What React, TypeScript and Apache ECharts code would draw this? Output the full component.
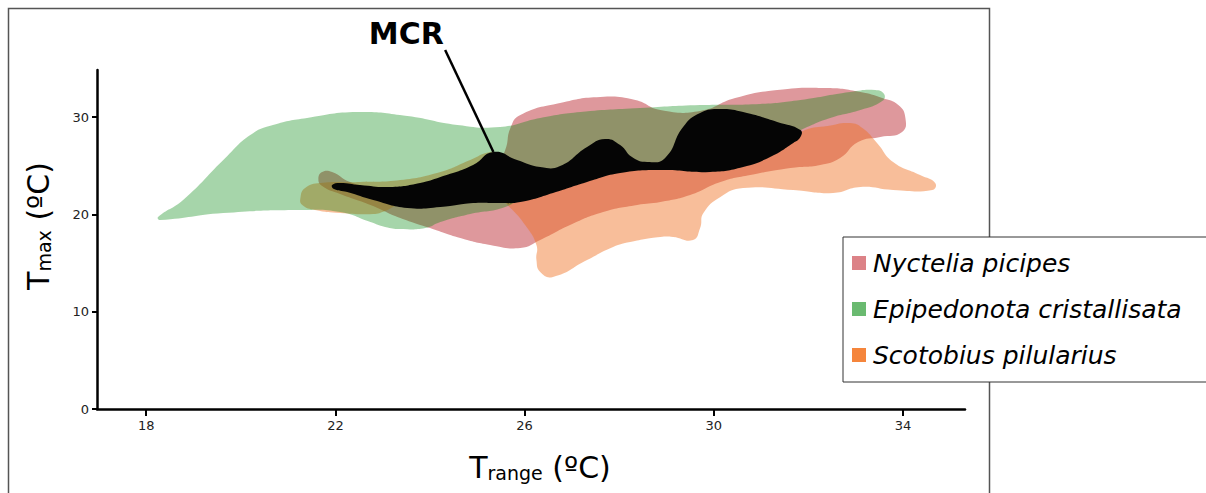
import React, { useEffect, useRef } from "react";
import * as echarts from "echarts";

// ---- Axis ticks ----
const xTicks = [18, 22, 26, 30, 34];
const yTicks = [0, 10, 20, 30];

// ---- Legend ----
const speciesNames = ["Nyctelia picipes", "Epipedonota cristallisata", "Scotobius pilularius"];
const legendColors = ["#dc8287", "#6aba70", "#f5853c"];

// ---- Niche outlines (Trange, Tmax) ----
const nycteliaX = [21.64, 21.72, 21.93, 22.31, 22.95, 23.79, 24.64, 25.27, 25.59, 25.70, 25.91, 26.75, 27.60, 28.34, 28.87, 29.71, 30.45, 31.34, 32.40, 33.10, 33.56, 33.90, 34.05, 33.98, 33.52, 33.05, 32.67, 32.25, 31.62, 30.77, 30.14, 29.50, 28.87, 28.38, 27.66, 26.96, 26.33, 25.91, 25.27, 24.64, 24.00, 23.37, 22.74, 22.10, 21.72];
const nycteliaY = [23.64, 24.36, 24.36, 23.33, 22.51, 21.69, 21.99, 23.53, 26.62, 28.88, 30.22, 31.45, 32.07, 31.76, 30.73, 30.63, 31.96, 32.79, 32.99, 32.58, 31.96, 31.24, 29.91, 28.47, 27.95, 27.44, 25.80, 25.08, 24.77, 24.05, 23.33, 21.99, 21.27, 20.97, 20.25, 18.91, 17.37, 16.55, 16.86, 17.57, 18.60, 19.63, 20.97, 22.10, 22.92];

const scotobiusX = [21.26, 21.36, 21.68, 22.52, 23.37, 24.22, 24.85, 25.27, 25.48, 25.91, 26.75, 27.60, 28.44, 29.71, 30.98, 31.62, 31.93, 32.40, 32.88, 33.14, 33.45, 33.79, 34.36, 34.68, 34.62, 33.79, 33.10, 32.52, 31.68, 30.62, 30.14, 29.78, 29.71, 29.56, 29.14, 28.87, 28.23, 27.87, 27.32, 26.60, 26.33, 26.25, 26.25, 26.01, 25.70, 25.48, 24.85, 24.00, 23.37, 23.05, 22.80, 22.10, 21.57, 21.30];
const scotobiusY = [21.69, 22.71, 23.23, 23.33, 23.53, 24.36, 25.59, 26.41, 26.10, 24.56, 23.53, 24.15, 24.97, 24.97, 26.41, 27.65, 28.67, 29.09, 29.39, 28.88, 27.34, 25.39, 24.05, 23.23, 22.51, 22.51, 22.82, 22.20, 22.51, 22.71, 21.79, 20.14, 18.60, 17.37, 17.68, 17.68, 17.16, 16.65, 15.31, 13.57, 14.08, 15.31, 16.86, 18.91, 20.66, 21.48, 21.89, 21.58, 21.07, 20.35, 20.04, 20.14, 20.45, 20.97];

const epipedonotaX = [18.25, 18.78, 19.63, 20.20, 20.68, 21.40, 22.46, 23.52, 24.58, 25.48, 26.33, 27.18, 28.44, 29.71, 30.98, 31.83, 32.88, 33.41, 33.60, 33.56, 33.10, 32.46, 31.93, 31.40, 30.14, 28.87, 27.60, 26.75, 26.12, 25.59, 24.85, 24.22, 23.90, 23.37, 23.05, 22.74, 22.10, 21.26, 19.63, 18.30];
const epipedonotaY = [19.73, 21.48, 25.59, 28.16, 29.19, 29.91, 30.52, 30.11, 29.19, 28.98, 29.91, 30.52, 30.93, 31.24, 31.35, 31.76, 32.58, 32.79, 32.37, 31.65, 30.73, 29.91, 28.88, 27.65, 25.59, 25.08, 24.56, 23.53, 22.30, 20.76, 20.04, 19.22, 18.60, 18.50, 18.71, 19.22, 20.25, 20.45, 20.14, 19.42];

const mcrX = [21.93, 22.10, 22.52, 23.16, 23.79, 24.22, 24.91, 25.34, 25.84, 26.33, 26.75, 27.32, 27.70, 28.02, 28.27, 28.59, 28.97, 29.35, 29.71, 30.14, 30.62, 31.34, 31.83, 31.83, 31.68, 31.19, 30.62, 29.92, 28.87, 28.02, 27.32, 26.60, 25.91, 25.48, 24.91, 24.22, 23.52, 22.80, 22.25, 21.97];
const mcrY = [23.02, 23.23, 23.02, 22.82, 23.23, 23.84, 25.08, 26.41, 25.59, 24.87, 24.97, 26.93, 27.75, 27.13, 25.90, 25.39, 25.80, 28.98, 30.42, 30.83, 30.52, 29.50, 28.67, 27.95, 27.34, 25.90, 24.87, 24.36, 24.56, 24.25, 23.33, 22.20, 21.27, 21.17, 21.17, 20.76, 20.66, 21.48, 22.30, 22.61];

// ---- MCR annotation ----
const mcrLabel = "MCR";
const mcrLabelPos = [23.5, 38.64];
const mcrPointer = [
  [24.32, 36.9],
  [25.34, 26.41],
];

function blobSeries(name: string, xs: number[], ys: number[], fill: string) {
  return {
    type: "custom",
    name,
    coordinateSystem: "cartesian2d",
    silent: true,
    data: xs.map((x, i) => [x, ys[i]]),
    encode: { x: 0, y: 1 },
    renderItem: (params: any, api: any) => {
      if (params.dataIndex !== 0) return null;
      const points = xs.map((x, i) => api.coord([x, ys[i]]));
      return {
        type: "polygon",
        shape: { points, smooth: 0.5 },
        style: { fill, stroke: "none" },
      };
    },
  };
}

const FONT = "DejaVu Sans";

export default function App() {
  const ref = useRef<HTMLDivElement>(null);
  useEffect(() => {
    const chart = echarts.init(ref.current!, null, { renderer: "svg" });
    const option: any = {
      animation: false,
      backgroundColor: "#fff",
      grid: { left: 97, right: 241, top: 70, bottom: 84 },
      xAxis: {
        type: "value",
        min: 16.96,
        max: 35.31,
        splitLine: { show: false },
        axisLine: { lineStyle: { color: "#000", width: 2.5 } },
        axisTick: { customValues: xTicks, length: 7, lineStyle: { color: "#000", width: 2 } },
        axisLabel: { customValues: xTicks, margin: 10, fontSize: 13, color: "#222", fontFamily: FONT },
      },
      yAxis: {
        type: "value",
        min: 0,
        max: 34.84,
        splitLine: { show: false },
        axisLine: { show: true, lineStyle: { color: "#000", width: 2.5 } },
        axisTick: { show: true, customValues: yTicks, length: 5, lineStyle: { color: "#000", width: 2 } },
        axisLabel: { customValues: yTicks, margin: 8, fontSize: 13, color: "#222", fontFamily: FONT },
      },
      legend: {
        orient: "vertical",
        left: 843,
        top: 237,
        z: 10,
        selectedMode: false,
        icon: "rect",
        itemWidth: 14,
        itemHeight: 14,
        itemGap: 18,
        backgroundColor: "#fff",
        borderColor: "#333",
        borderWidth: 1,
        padding: [12, 60, 13, 9],
        data: speciesNames.map((n, i) => ({ name: n, itemStyle: { color: legendColors[i] } })),
        textStyle: { fontSize: 25, fontStyle: "italic", fontFamily: FONT, color: "#000", lineHeight: 28, padding: [0, 0, 0, 2] },
      },
      series: [
        blobSeries(speciesNames[0], nycteliaX, nycteliaY, "#de989c"),
        blobSeries(speciesNames[2], scotobiusX, scotobiusY, "rgba(240,111,31,0.45)"),
        blobSeries(speciesNames[1], epipedonotaX, epipedonotaY, "rgba(0,134,11,0.35)"),
        blobSeries("MCR", mcrX, mcrY, "#050505"),
        {
          type: "line",
          name: "pointer",
          data: mcrPointer,
          clip: false,
          symbol: "none",
          silent: true,
          lineStyle: { color: "#000", width: 2.5 },
          z: 5,
        },
      ],
    };
    chart.setOption(option);
    const lp = chart.convertToPixel({ gridIndex: 0 }, mcrLabelPos) as number[];
    chart.setOption({
      graphic: [
        {
          type: "rect",
          id: "frame",
          z: 0,
          silent: true,
          shape: { x: 8.5, y: 8.5, width: 981, height: 520 },
          style: { fill: "none", stroke: "#555", lineWidth: 1.5 },
        },
        {
          type: "text",
          id: "mcr",
          x: lp[0],
          y: lp[1],
          z: 20,
          style: { text: mcrLabel, fontSize: 30, fontWeight: "bold", fontFamily: FONT, fill: "#000", align: "center", verticalAlign: "middle" },
        },
        {
          type: "text",
          id: "xname",
          x: 540,
          y: 467,
          style: {
            text: "{a|T}{b|range}{a| (ºC)}",
            align: "center",
            verticalAlign: "middle",
            fill: "#000",
            fontFamily: FONT,
            rich: {
              a: { fontSize: 30, fontFamily: FONT, fill: "#000", verticalAlign: "bottom" },
              b: { fontSize: 19, fontFamily: FONT, fill: "#000", verticalAlign: "bottom" },
            },
          },
        },
        {
          type: "text",
          id: "yname",
          x: 38,
          y: 226,
          rotation: Math.PI / 2,
          style: {
            text: "{a|T}{b|max}{a| (ºC)}",
            align: "center",
            verticalAlign: "middle",
            fill: "#000",
            fontFamily: FONT,
            rich: {
              a: { fontSize: 30, fontFamily: FONT, fill: "#000", verticalAlign: "bottom" },
              b: { fontSize: 19, fontFamily: FONT, fill: "#000", verticalAlign: "bottom" },
            },
          },
        },
      ],
    });
    return () => chart.dispose();
  }, []);
  return <div ref={ref} style={{ position: "absolute", left: 0, top: 0, width: 1206, height: 493 }} />;
}
